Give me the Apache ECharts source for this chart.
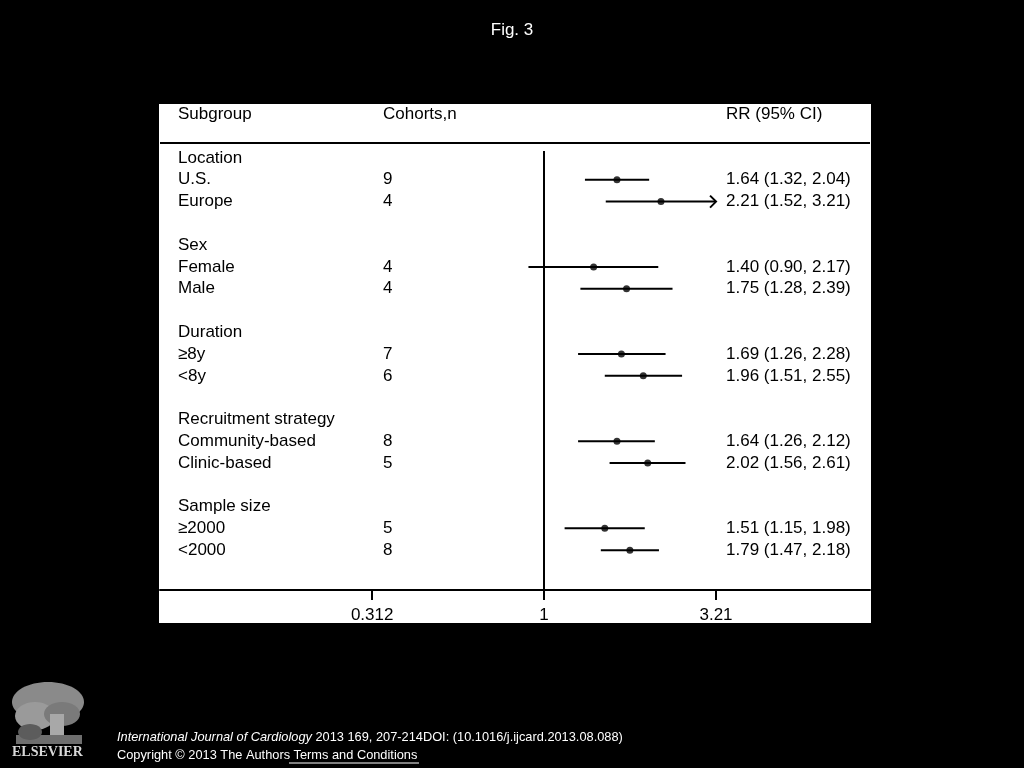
<!DOCTYPE html>
<html>
<head>
<meta charset="utf-8">
<script src="https://cdn.jsdelivr.net/npm/echarts@6/dist/echarts.min.js"></script>
<style>
html,body{margin:0;padding:0;background:#000;}
#chart{width:1024px;height:768px;}
</style>
</head>
<body>
<div id="chart"></div>
<script>
// ---- data ----
const groups = ['Location', 'Sex', 'Duration', 'Recruitment strategy', 'Sample size'];
const subgroups = ['U.S.', 'Europe', 'Female', 'Male', '≥8y', '<8y', 'Community-based', 'Clinic-based', '≥2000', '<2000'];
const subgroupGroup = [0, 0, 1, 1, 2, 2, 3, 3, 4, 4];
const cohorts = [9, 4, 4, 4, 7, 6, 8, 5, 5, 8];
const rr    = [1.64, 2.21, 1.40, 1.75, 1.69, 1.96, 1.64, 2.02, 1.51, 1.79];
const lower = [1.32, 1.52, 0.90, 1.28, 1.26, 1.51, 1.26, 1.56, 1.15, 1.47];
const upper = [2.04, 3.21, 2.17, 2.39, 2.28, 2.55, 2.12, 2.61, 1.98, 2.18];
const xTicks = ['0.312', '1', '3.21'];
const headers = ['Subgroup', 'Cohorts,n', 'RR (95% CI)'];

// ---- row layout (row index, header at -2) ----
const subRow = [];
const groupRow = [];
{
  let r = 0;
  groups.forEach((g, gi) => {
    groupRow.push(r);
    let k = 1;
    subgroups.forEach((s, i) => { if (subgroupGroup[i] === gi) { subRow[i] = r + k; k++; } });
    r += k + 1;
  });
}
const HEADER_ROW = -2;
const Y_MIN = -2.48, Y_MAX = 19.83;
const HEADER_LINE_ROW = -0.69, REF_TOP_ROW = -0.32;
const X_MIN = -2.603, X_MAX = 2.210; // natural-log axis range

const fmt = v => v.toFixed(2);
const col1 = {}, col2 = {}, col3 = {};
col1[HEADER_ROW] = headers[0]; col2[HEADER_ROW] = headers[1]; col3[HEADER_ROW] = headers[2];
groups.forEach((g, gi) => { col1[groupRow[gi]] = g; });
subgroups.forEach((s, i) => {
  col1[subRow[i]] = s;
  col2[subRow[i]] = String(cohorts[i]);
  col3[subRow[i]] = fmt(rr[i]) + ' (' + fmt(lower[i]) + ', ' + fmt(upper[i]) + ')';
});
const rowsOf = obj => Object.keys(obj).map(Number);

const tickVals = xTicks.map(t => Math.log(parseFloat(t)));
const tickLabel = v => {
  let best = 0;
  tickVals.forEach((t, i) => { if (Math.abs(t - v) < Math.abs(tickVals[best] - v)) best = i; });
  return xTicks[best];
};
const xMaxTick = parseFloat(xTicks[xTicks.length - 1]);

const FONT = 'Liberation Sans, Arial, sans-serif';
const txt = {color: '#000', fontSize: 17, fontFamily: FONT};

function textAxis(obj, offset) {
  return {
    type: 'value', inverse: true, min: Y_MIN, max: Y_MAX, position: 'left', offset: offset,
    axisLine: {show: false, onZero: false}, axisTick: {show: false}, splitLine: {show: false},
    axisLabel: Object.assign({inside: true, margin: 18, customValues: rowsOf(obj),
      formatter: v => obj[Math.round(v)] || ''}, txt)
  };
}

const chart = echarts.init(document.getElementById('chart'));
chart.setOption({
  backgroundColor: '#000',
  animation: false,
  title: {text: 'Fig. 3', left: 'center', top: 17, textStyle: {color: '#fff', fontSize: 17, fontWeight: 'normal', fontFamily: FONT}},
  graphic: [
    {type: 'rect', z: -10, shape: {x: 159, y: 104, width: 712, height: 519}, style: {fill: '#fff'}},
    // Elsevier logo (approximation)
    {type: 'group', children: [
      {type: 'ellipse', shape: {cx: 48, cy: 702, rx: 36, ry: 20}, style: {fill: '#8a8a8a'}},
      {type: 'ellipse', shape: {cx: 35, cy: 716, rx: 20, ry: 14}, style: {fill: '#9a9a9a'}},
      {type: 'ellipse', shape: {cx: 62, cy: 714, rx: 18, ry: 12}, style: {fill: '#7a7a7a'}},
      {type: 'rect', shape: {x: 50, y: 714, width: 14, height: 30}, style: {fill: '#a8a8a8'}},
      {type: 'rect', shape: {x: 16, y: 735, width: 66, height: 9}, style: {fill: '#6e6e6e'}},
      {type: 'ellipse', shape: {cx: 30, cy: 732, rx: 12, ry: 8}, style: {fill: '#5c5c5c'}},
      {type: 'text', style: {x: 12, y: 745, text: 'ELSEVIER', fill: '#d8d8d8', font: 'bold 14px "Liberation Serif", "DejaVu Serif", serif'}}
    ]},
    {type: 'text', style: {x: 117, y: 731, text: '{i|International Journal of Cardiology} 2013 169, 207-214DOI: (10.1016/j.ijcard.2013.08.088)',
      fill: '#fff', font: '12.8px ' + FONT,
      rich: {i: {fontStyle: 'italic', fontSize: 12.8, fontFamily: FONT, fill: '#fff'}}}},
    {type: 'text', style: {x: 117, y: 749, text: 'Copyright © 2013 The Authors Terms and Conditions', fill: '#fff', font: '12.8px ' + FONT}},
    {type: 'line', shape: {x1: 289, y1: 763, x2: 419, y2: 763}, style: {stroke: '#fff', lineWidth: 1}}
  ],
  grid: {left: 160, right: 154, top: 104, bottom: 178, containLabel: false},
  xAxis: {
    type: 'value', min: X_MIN, max: X_MAX,
    axisLine: {onZero: false, lineStyle: {color: '#000', width: 2}},
    axisTick: {show: true, length: 10, lineStyle: {color: '#000', width: 2}, customValues: tickVals},
    axisLabel: Object.assign({margin: 17, customValues: tickVals, formatter: tickLabel}, txt),
    splitLine: {show: false}
  },
  yAxis: [textAxis(col1, 0), textAxis(col2, -205), textAxis(col3, -548)],
  series: [
    {
      type: 'custom', yAxisIndex: 0,
      encode: {x: [0, 1], y: 2},
      data: subgroups.map((s, i) => [Math.log(lower[i]), Math.log(upper[i]), subRow[i], upper[i] >= xMaxTick ? 1 : 0]),
      renderItem: (params, api) => {
        const y = api.value(2);
        const p1 = api.coord([api.value(0), y]);
        const p2 = api.coord([api.value(1), y]);
        const children = [{type: 'line', shape: {x1: p1[0], y1: p1[1], x2: p2[0], y2: p2[1]}, style: {stroke: '#000', lineWidth: 2}}];
        if (api.value(3)) {
          children.push({type: 'polyline', shape: {points: [[p2[0] - 6, p2[1] - 6], [p2[0], p2[1]], [p2[0] - 6, p2[1] + 6]]},
            style: {stroke: '#000', lineWidth: 2, fill: null}});
        }
        return {type: 'group', children: children};
      }
    },
    {
      type: 'scatter', yAxisIndex: 0,
      data: subgroups.map((s, i) => [Math.log(rr[i]), subRow[i]]),
      symbol: 'circle', symbolSize: 7,
      itemStyle: {color: '#000'},
      z: 5,
      markLine: {
        silent: true, symbol: 'none', label: {show: false},
        lineStyle: {color: '#000', width: 2, type: 'solid'},
        data: [
          {yAxis: HEADER_LINE_ROW},
          [{coord: [0, REF_TOP_ROW]}, {coord: [0, Y_MAX]}]
        ]
      }
    }
  ]
});
</script>
</body>
</html>
